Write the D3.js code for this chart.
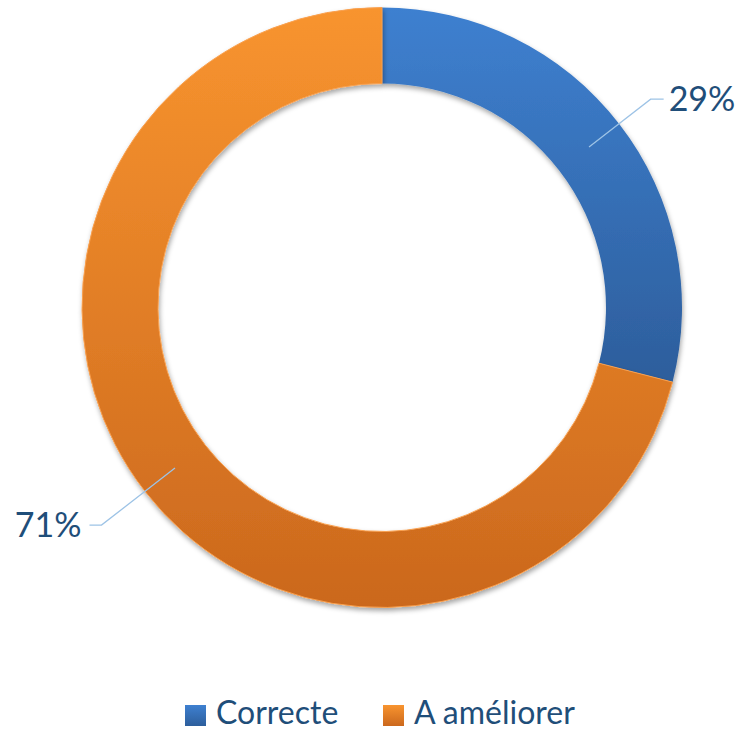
<!DOCTYPE html>
<html>
<head>
<meta charset="utf-8">
<script src="https://cdn.jsdelivr.net/npm/d3@7"></script>
<style>
  body { margin: 0; background: #fff; }
  svg { display: block; font-family: Lato, 'Open Sans', sans-serif; }
</style>
</head>
<body>
<div id="chart"></div>
<script>
const categories = ['Correcte', 'A améliorer']
const values = [29, 71]
const labels = ['29%', '71%']

const width = 736
const height = 731
const cx = 382
const cy = 307.5
const outerR = 300
const innerR = 224

const svg = d3
  .select('#chart')
  .append('svg')
  .attr('width', width)
  .attr('height', height)

const defs = svg.append('defs')

// vertical gradients, like the office fill
const gradStops = {
  Correcte: ['#3e80d0', '#2d5e9c'],
  'A améliorer': ['#f8942f', '#cb681d']
}
categories.forEach((c, i) => {
  const g = defs
    .append('linearGradient')
    .attr('id', 'grad' + i)
    .attr('x1', 0)
    .attr('y1', 0)
    .attr('x2', 0)
    .attr('y2', 1)
  g.append('stop').attr('offset', '0%').attr('stop-color', gradStops[c][0])
  g.append('stop').attr('offset', '100%').attr('stop-color', gradStops[c][1])
})

const filter = defs
  .append('filter')
  .attr('id', 'shadow')
  .attr('x', '-10%')
  .attr('y', '-10%')
  .attr('width', '120%')
  .attr('height', '120%')
filter
  .append('feDropShadow')
  .attr('dx', 1)
  .attr('dy', 3)
  .attr('stdDeviation', 2.5)
  .attr('flood-color', '#000')
  .attr('flood-opacity', 0.35)

const pie = d3.pie().sort(null).value(d => d)
const arc = d3.arc().innerRadius(innerR).outerRadius(outerR)

const arcs = pie(values)

const container = svg
  .append('g')
  .attr('transform', 'translate(' + cx + ',' + cy + ')')

container
  .selectAll('.slice')
  .data(arcs)
  .enter()
  .append('path')
  .attr('class', 'slice')
  .attr('d', arc)
  .attr('fill', (d, i) => 'url(#grad' + i + ')')
  .attr('stroke', (d, i) => (i === 1 ? '#f9a04e' : 'none'))
  .attr('stroke-width', 1)
  .attr('filter', 'url(#shadow)')

// leader lines + labels
const midR = (innerR + outerR) / 2

arcs.forEach((d, i) => {
  const a = (d.startAngle + d.endAngle) / 2
  const right = Math.sin(a) > 0
  const elbowR = right ? 340 : 355
  const p0 = [Math.sin(a) * midR, -Math.cos(a) * midR]
  const p1 = [Math.sin(a) * elbowR, -Math.cos(a) * elbowR]
  const p2 = [p1[0] + (right ? 13 : -12), p1[1]]

  container
    .append('polyline')
    .attr('points', [p0, p1, p2].map(p => p.join(',')).join(' '))
    .attr('fill', 'none')
    .attr('stroke', '#9dc3e6')
    .attr('stroke-width', 1.3)

  container
    .append('text')
    .attr('x', p2[0] + (right ? 5 : -8))
    .attr('y', p2[1])
    .attr('dy', '0.35em')
    .attr('text-anchor', right ? 'start' : 'end')
    .attr('font-size', 34)
    .attr('fill', '#1f4e79')
    .text(labels[i])
})

// legend
const legend = svg.append('g').attr('transform', 'translate(0,713)')
const legendX = [185, 383]

categories.forEach((c, i) => {
  legend
    .append('rect')
    .attr('x', legendX[i])
    .attr('y', -8)
    .attr('width', 21)
    .attr('height', 21)
    .attr('fill', 'url(#grad' + i + ')')
  legend
    .append('text')
    .attr('x', legendX[i] + 31)
    .attr('y', 0)
    .attr('dy', '0.35em')
    .attr('font-size', 32)
    .attr('fill', '#1f4e79')
    .text(c)
})
</script>
</body>
</html>
